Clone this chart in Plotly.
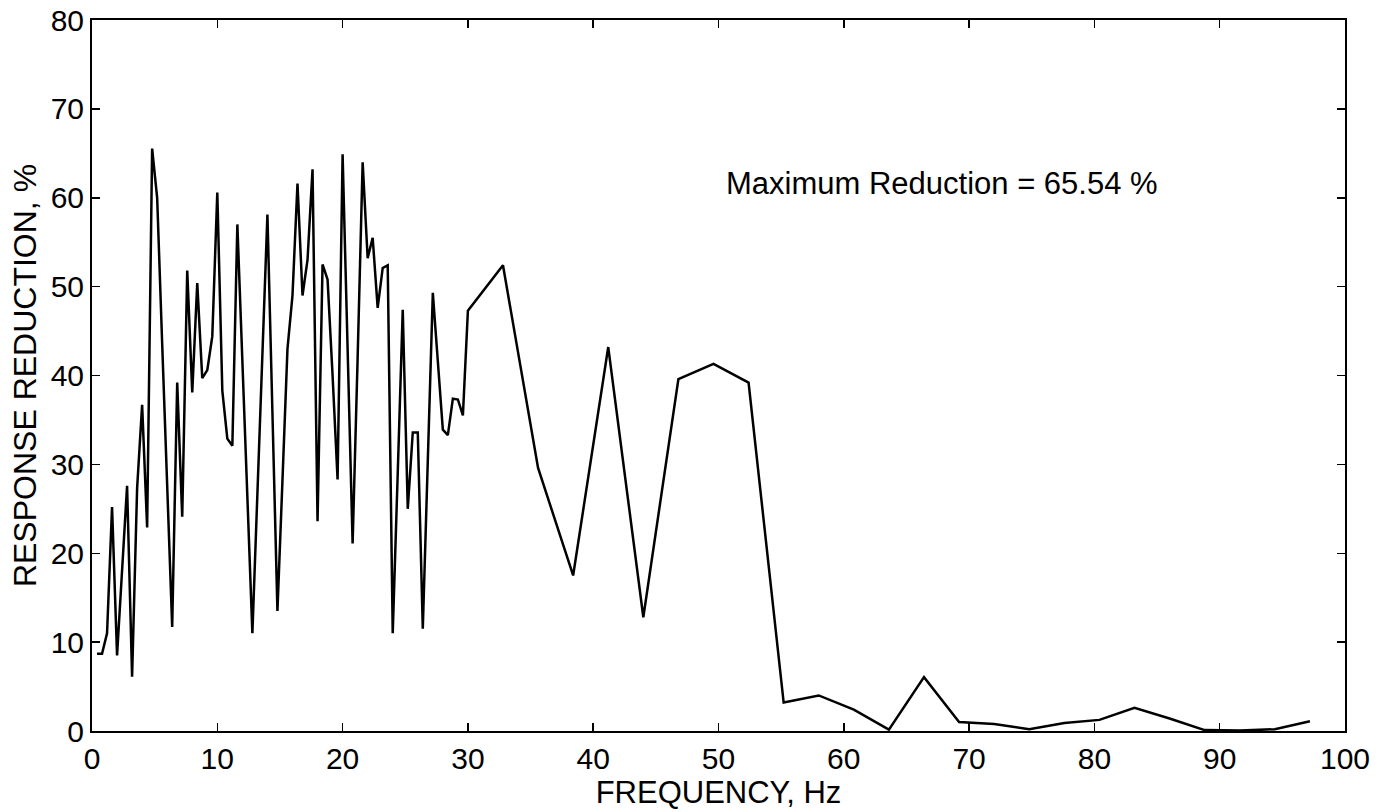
import plotly.graph_objects as go

freq_hz = [0.4, 0.8, 1.2, 1.6, 2.0, 2.4, 2.8, 3.2, 3.6, 4.0, 4.4, 4.8, 5.2, 5.6, 6.0,
           6.4, 6.8, 7.2, 7.6, 8.0, 8.4, 8.8, 9.2, 9.6, 10.0, 10.4, 10.8, 11.2, 11.6,
           12.0, 12.4, 12.8, 13.2, 13.6, 14.0, 14.4, 14.8, 15.2, 15.6, 16.0, 16.4,
           16.8, 17.2, 17.6, 18.0, 18.4, 18.8, 19.2, 19.6, 20.0, 20.4, 20.8, 21.2,
           21.6, 22.0, 22.4, 22.8, 23.2, 23.6, 24.0, 24.4, 24.8, 25.2, 25.6, 26.0,
           26.4, 26.8, 27.2, 27.6, 28.0, 28.4, 28.8, 29.2, 29.6, 30.0,
           32.8, 35.6, 38.4, 41.2, 44.0, 46.8, 49.6, 52.4, 55.2, 58.0, 60.8, 63.6,
           66.4, 69.2, 72.0, 74.8, 77.6, 80.4, 83.2, 86.0, 88.8, 91.6, 94.4, 97.2]

reduction_pct = [8.7, 8.7, 11.0, 25.2, 8.5, 18.4, 27.6, 6.1, 27.3, 36.7, 22.9, 65.54, 60.0, 43.6, 27.6,
                 11.7, 39.2, 24.1, 51.8, 38.1, 50.4, 39.7, 40.6, 44.4, 60.6, 38.3, 32.9, 32.1, 57.0,
                 41.7, 26.3, 11.0, 26.7, 42.4, 58.1, 35.8, 13.5, 28.2, 43.0, 49.0, 61.6,
                 49.0, 53.0, 63.2, 23.6, 52.5, 50.8, 40.0, 28.3, 64.9, 43.0, 21.1, 42.0,
                 64.0, 53.2, 55.5, 47.6, 52.1, 52.4, 11.0, 29.0, 47.4, 25.0, 33.6, 33.6,
                 11.5, 30.4, 49.3, 41.6, 33.9, 33.3, 37.4, 37.3, 35.5, 47.3,
                 52.4, 29.6, 17.5, 43.2, 12.8, 39.6, 41.3, 39.2, 3.2, 4.0, 2.4, 0.15,
                 6.06, 1.0, 0.8, 0.2, 0.9, 1.25, 2.6, 1.4, 0.1, 0.05, 0.2, 1.1]

x_ticks = [0, 10, 20, 30, 40, 50, 60, 70, 80, 90, 100]
y_ticks = [0, 10, 20, 30, 40, 50, 60, 70, 80]
annotation_text = "Maximum Reduction = 65.54 %"

FONT = "Liberation Sans, Arial, Helvetica, sans-serif"

fig = go.Figure()
fig.add_trace(go.Scatter(x=freq_hz, y=reduction_pct, mode="lines",
                         line=dict(color="black", width=2.5), showlegend=False))

axis_common = dict(showgrid=False, zeroline=False, showline=True, linecolor="black",
                   linewidth=2, mirror="ticks", ticks="inside", ticklen=8,
                   tickwidth=1.5, tickcolor="black", automargin=False,
                   ticklabeloverflow="allow",
                   tickfont=dict(family=FONT, size=30, color="black"))

fig.update_xaxes(range=[0, 100], tickvals=x_ticks, ticktext=[str(v) for v in x_ticks],
                 title=dict(text="FREQUENCY, Hz", font=dict(family=FONT, size=31, color="black"),
                            standoff=0),
                 **axis_common)
fig.update_yaxes(range=[0, 80], tickvals=y_ticks, ticktext=[str(v) for v in y_ticks],
                 title=dict(text="RESPONSE REDUCTION, %", font=dict(family=FONT, size=32, color="black"),
                            standoff=4),
                 **axis_common)

fig.add_annotation(x=67.8, y=61.6, xref="x", yref="y", text=annotation_text,
                   showarrow=False, font=dict(family=FONT, size=31, color="black"))

fig.update_layout(width=1387, height=812, margin=dict(l=92, r=42, t=20, b=81),
                  plot_bgcolor="white", paper_bgcolor="white", hovermode=False)

# remove the browser's default body margin so the figure fills the window exactly
fig.write_html("out.html",
               config={"displayModeBar": False, "staticPlot": True},
               post_script="document.body.style.margin='0';document.body.style.overflow='hidden';")
